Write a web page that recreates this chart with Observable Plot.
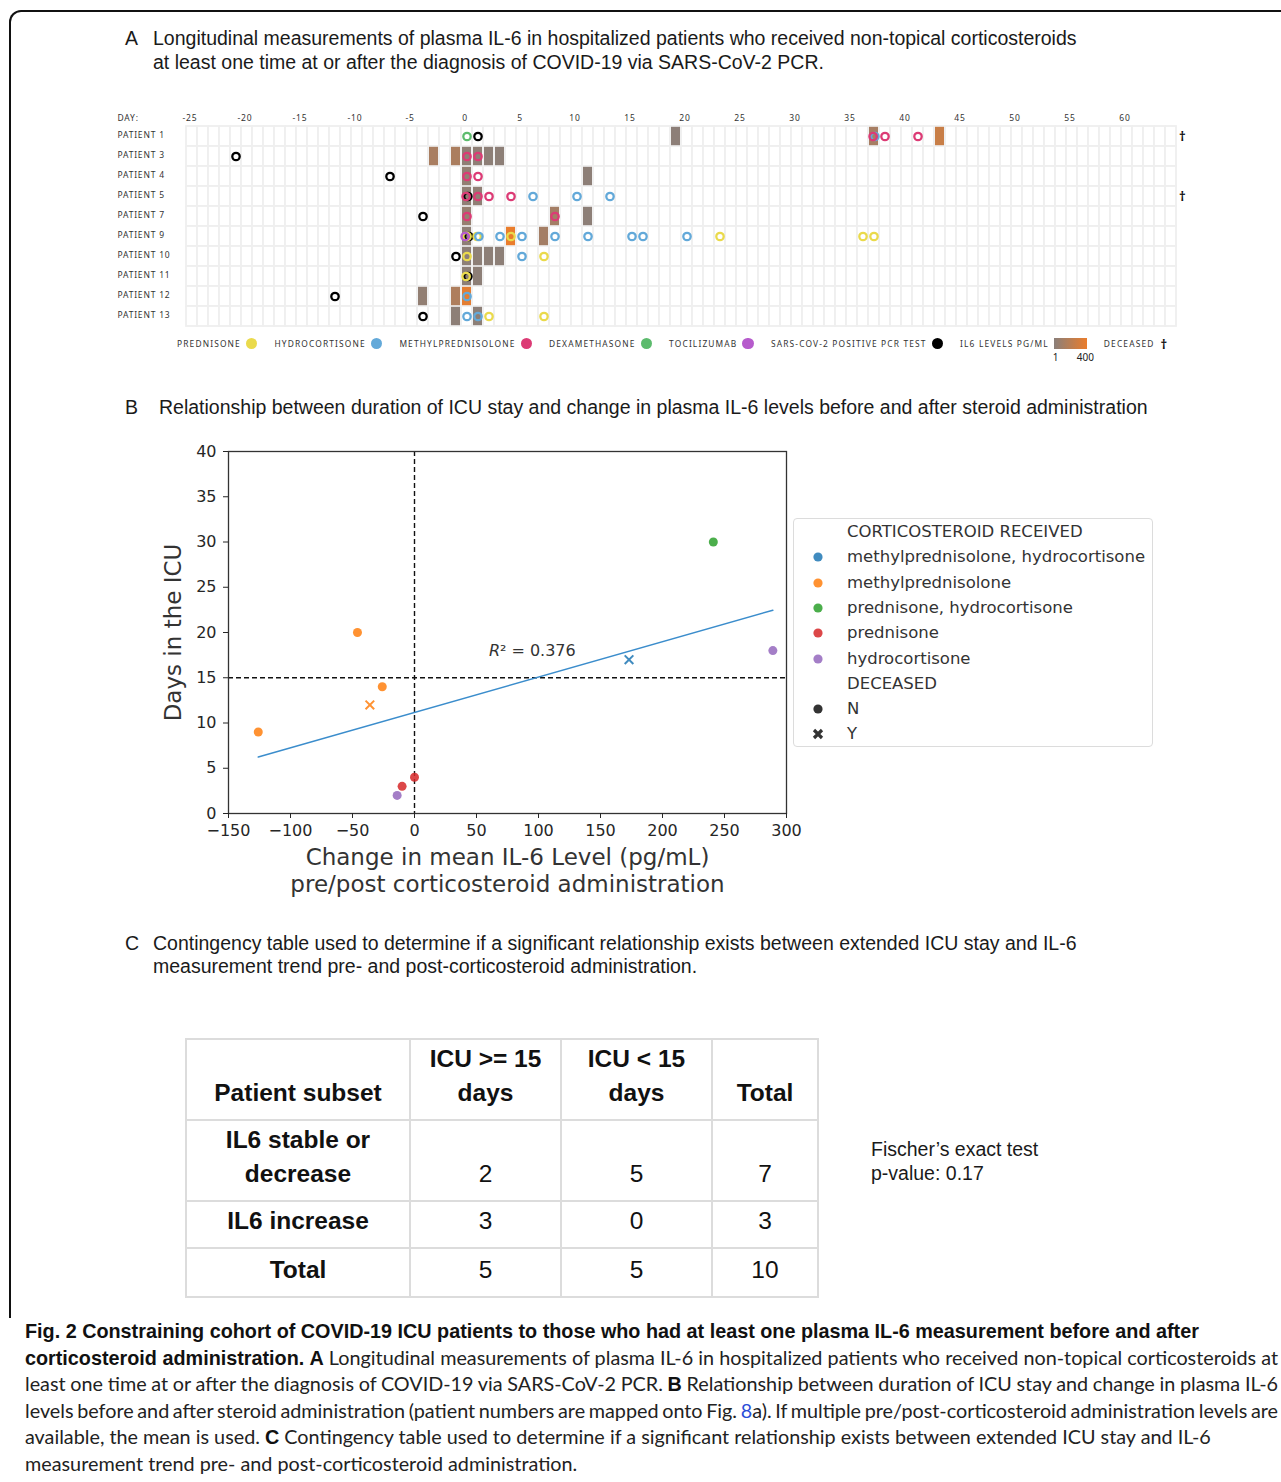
<!DOCTYPE html>
<html><head><meta charset="utf-8">
<script src="https://cdn.jsdelivr.net/npm/d3@7"></script>
<script src="https://cdn.jsdelivr.net/npm/@observablehq/plot@0.6"></script>
<style>
html,body{margin:0;padding:0;background:#fff;}
body{width:1281px;height:1482px;position:relative;overflow:hidden;font-family:"Liberation Sans",Arial,sans-serif;color:#1a1a1a;}
.frame{position:absolute;left:9px;top:10px;width:1320px;height:1306px;border:2px solid #111;border-bottom:none;border-top-left-radius:12px;}
.t{position:absolute;font-size:19.5px;line-height:24px;white-space:nowrap;color:#1a1a1a;}
#plotA,#plotB{position:absolute;}
#plotA{left:0;top:100px;}
#plotB{left:150px;top:430px;}
#legA{position:absolute;left:177px;top:337px;height:13px;display:flex;align-items:center;font-family:"Noto Sans",sans-serif;font-size:8.4px;letter-spacing:1.15px;color:#333;white-space:nowrap;}
#legA .it{display:flex;align-items:center;margin-right:17px;}
#legA .dot{width:11.5px;height:11.5px;border-radius:50%;margin-left:5px;}
#legA .grad{position:relative;width:33px;height:11px;margin-left:5px;}
#legA .gl{position:absolute;top:12px;font-size:10px;letter-spacing:0;color:#222;}
#legB{position:absolute;left:793px;top:518px;width:358px;height:227px;border:1px solid #dcdcdc;border-radius:4px;font-family:"DejaVu Sans",sans-serif;font-size:16.5px;color:#333;}
#legB .row{position:absolute;left:0;height:25px;line-height:25px;width:100%;}
#legB .lab{position:absolute;left:53px;white-space:nowrap;}
#legB svg{position:absolute;left:18px;top:7px;}
table.ct{position:absolute;left:185px;top:1038px;border-collapse:collapse;table-layout:fixed;width:632px;font-family:"Liberation Sans",Arial,sans-serif;color:#111;}
table.ct td{border:2px solid #dcdcdc;text-align:center;vertical-align:bottom;padding:0 0 9px 0;font-size:24.5px;line-height:34px;white-space:nowrap;}
table.ct td.b{font-weight:bold;}
#cap{position:absolute;left:25px;top:1317px;width:1253px;font-size:19.8px;color:#222;}
#cap div{white-space:nowrap;font-family:"Lato","Open Sans",sans-serif;height:26.6px;line-height:26.6px;}
#cap div.j{text-align:justify;text-align-last:justify;word-spacing:-3px;}
#cap b{font-family:"Liberation Sans",Arial,sans-serif;font-weight:bold;color:#111;}
</style></head>
<body>
<div class="frame"></div>
<div class="t" style="left:125px;top:26px;">A</div>
<div class="t" style="left:153px;top:26px;">Longitudinal measurements of plasma IL-6 in hospitalized patients who received non-topical corticosteroids<br>at least one time at or after the diagnosis of COVID-19 via SARS-CoV-2 PCR.</div>
<div id="plotA"></div>
<div id="legA"></div>
<div class="t" style="left:125px;top:395px;">B</div>
<div class="t" style="left:159px;top:395px;">Relationship between duration of ICU stay and change in plasma IL-6 levels before and after steroid administration</div>
<div id="plotB"></div>
<div id="legB"></div>
<div class="t" style="left:125px;top:932px;line-height:23px;">C</div>
<div class="t" style="left:153px;top:932px;line-height:23px;">Contingency table used to determine if a significant relationship exists between extended ICU stay and IL-6<br>measurement trend pre- and post-corticosteroid administration.</div>
<table class="ct" id="ct"></table>
<div class="t" style="left:871px;top:1137px;">Fischer’s exact test<br>p-value: 0.17</div>
<div id="cap">
<div><b>Fig. 2 Constraining cohort of COVID-19 ICU patients to those who had at least one plasma IL-6 measurement before and after</b></div>
<div class="j"><b>corticosteroid administration.</b> <b>A</b> Longitudinal measurements of plasma IL-6 in hospitalized patients who received non-topical corticosteroids at</div>
<div class="j">least one time at or after the diagnosis of COVID-19 via SARS-CoV-2 PCR. <b>B</b> Relationship between duration of ICU stay and change in plasma IL-6</div>
<div class="j">levels before and after steroid administration (patient numbers are mapped onto Fig. <span style="color:#2a4fd8">8</span>a). If multiple pre/post-corticosteroid administration levels are</div>
<div>available, the mean is used. <b>C</b> Contingency table used to determine if a significant relationship exists between extended ICU stay and IL-6</div>
<div>measurement trend pre- and post-corticosteroid administration.</div>
</div>
<script>
// ---------- Panel A data ----------
const patients = ["PATIENT 1","PATIENT 3","PATIENT 4","PATIENT 5","PATIENT 7","PATIENT 9","PATIENT 10","PATIENT 11","PATIENT 12","PATIENT 13"];
const studyDays = d3.range(-25, 65);
const dayTicks = d3.range(-25, 61, 5);
// [patient, day, IL-6 pg/mL]
const il6Levels = [
  ["PATIENT 1", 19, 12], ["PATIENT 1", 37, 120], ["PATIENT 1", 43, 260],
  ["PATIENT 3", -3, 130], ["PATIENT 3", -1, 140], ["PATIENT 3", 0, 20], ["PATIENT 3", 1, 20], ["PATIENT 3", 2, 15], ["PATIENT 3", 3, 15],
  ["PATIENT 4", 0, 35], ["PATIENT 4", 11, 15],
  ["PATIENT 5", 0, 25], ["PATIENT 5", 1, 25],
  ["PATIENT 7", 0, 50], ["PATIENT 7", 8, 110], ["PATIENT 7", 11, 15],
  ["PATIENT 9", 0, 20], ["PATIENT 9", 4, 400], ["PATIENT 9", 7, 110],
  ["PATIENT 10", 0, 15], ["PATIENT 10", 1, 15], ["PATIENT 10", 2, 15], ["PATIENT 10", 3, 15],
  ["PATIENT 11", 0, 15], ["PATIENT 11", 1, 15],
  ["PATIENT 12", -4, 35], ["PATIENT 12", -1, 150], ["PATIENT 12", 0, 370],
  ["PATIENT 13", -1, 15], ["PATIENT 13", 1, 15]
];
const eventNames = ["PREDNISONE","HYDROCORTISONE","METHYLPREDNISOLONE","DEXAMETHASONE","TOCILIZUMAB","SARS-COV-2 POSITIVE PCR TEST"];
const eventColors = ["#eada4c","#63a9d9","#dc3b75","#5cbb6d","#b65bcc","#000000"];
// [patient, day, event]
const events = [
  ["PATIENT 1", 0, "DEXAMETHASONE"], ["PATIENT 1", 1, "SARS-COV-2 POSITIVE PCR TEST"], ["PATIENT 1", 37, "METHYLPREDNISOLONE"], ["PATIENT 1", 37, "HYDROCORTISONE"], ["PATIENT 1", 38, "METHYLPREDNISOLONE"], ["PATIENT 1", 41, "METHYLPREDNISOLONE"],
  ["PATIENT 3", -21, "SARS-COV-2 POSITIVE PCR TEST"], ["PATIENT 3", 0, "METHYLPREDNISOLONE"], ["PATIENT 3", 1, "METHYLPREDNISOLONE"],
  ["PATIENT 4", -7, "SARS-COV-2 POSITIVE PCR TEST"], ["PATIENT 4", 0, "METHYLPREDNISOLONE"], ["PATIENT 4", 1, "METHYLPREDNISOLONE"],
  ["PATIENT 5", 0, "METHYLPREDNISOLONE"], ["PATIENT 5", 0, "SARS-COV-2 POSITIVE PCR TEST"], ["PATIENT 5", 1, "METHYLPREDNISOLONE"], ["PATIENT 5", 2, "METHYLPREDNISOLONE"], ["PATIENT 5", 4, "METHYLPREDNISOLONE"], ["PATIENT 5", 6, "HYDROCORTISONE"], ["PATIENT 5", 10, "HYDROCORTISONE"], ["PATIENT 5", 13, "HYDROCORTISONE"],
  ["PATIENT 7", -4, "SARS-COV-2 POSITIVE PCR TEST"], ["PATIENT 7", 0, "METHYLPREDNISOLONE"], ["PATIENT 7", 8, "METHYLPREDNISOLONE"],
  ["PATIENT 9", 0, "TOCILIZUMAB"], ["PATIENT 9", 0, "PREDNISONE"], ["PATIENT 9", 0, "SARS-COV-2 POSITIVE PCR TEST"], ["PATIENT 9", 1, "PREDNISONE"], ["PATIENT 9", 1, "HYDROCORTISONE"], ["PATIENT 9", 3, "HYDROCORTISONE"], ["PATIENT 9", 4, "PREDNISONE"], ["PATIENT 9", 5, "HYDROCORTISONE"], ["PATIENT 9", 8, "HYDROCORTISONE"], ["PATIENT 9", 11, "HYDROCORTISONE"], ["PATIENT 9", 15, "HYDROCORTISONE"], ["PATIENT 9", 16, "HYDROCORTISONE"], ["PATIENT 9", 20, "HYDROCORTISONE"], ["PATIENT 9", 23, "PREDNISONE"], ["PATIENT 9", 36, "PREDNISONE"], ["PATIENT 9", 37, "PREDNISONE"],
  ["PATIENT 10", -1, "SARS-COV-2 POSITIVE PCR TEST"], ["PATIENT 10", 0, "PREDNISONE"], ["PATIENT 10", 5, "HYDROCORTISONE"], ["PATIENT 10", 7, "PREDNISONE"],
  ["PATIENT 11", 0, "PREDNISONE"], ["PATIENT 11", 0, "SARS-COV-2 POSITIVE PCR TEST"],
  ["PATIENT 12", -12, "SARS-COV-2 POSITIVE PCR TEST"], ["PATIENT 12", 0, "HYDROCORTISONE"],
  ["PATIENT 13", -4, "SARS-COV-2 POSITIVE PCR TEST"], ["PATIENT 13", 0, "HYDROCORTISONE"], ["PATIENT 13", 1, "HYDROCORTISONE"], ["PATIENT 13", 2, "PREDNISONE"], ["PATIENT 13", 7, "PREDNISONE"]
];
const deceasedPatients = ["PATIENT 1", "PATIENT 5"];
const il6Range = ["#8a7f7a", "#ea7d2c"];

// ---------- Panel B data ----------
const steroidNames = ["methylprednisolone, hydrocortisone","methylprednisolone","prednisone, hydrocortisone","prednisone","hydrocortisone"];
const steroidColors = ["#1f77b4","#ff7f0e","#2ca02c","#d62728","#9467bd"];
const il6Change = [241, 289, 173, -46, -26, -126, -36, 0, -10, -14];
const icuDays = [30, 18, 17, 20, 14, 9, 12, 4, 3, 2];
const steroidReceived = ["prednisone, hydrocortisone","hydrocortisone","methylprednisolone, hydrocortisone","methylprednisolone","methylprednisolone","methylprednisolone","methylprednisolone","prednisone","prednisone","hydrocortisone"];
const deceasedFlag = ["N","N","Y","N","N","N","Y","N","N","N"];
const xTicksB = d3.range(-150, 301, 50);
const yTicksB = d3.range(0, 41, 5);
const r2LabelAt = [{x: 60, y: 18}];

// ---------- Panel C data ----------
const tableHeader = ["Patient subset", "ICU &gt;= 15<br>days", "ICU &lt; 15<br>days", "Total"];
const subsets = ["IL6 stable or<br>decrease", "IL6 increase", "Total"];
const icuLong = [2, 3, 5];
const icuShort = [5, 0, 5];
const rowTotals = [7, 3, 10];

// ---------- Panel A ----------
const il6 = il6Levels.map(([patient, day, level]) => ({patient, day, level}));
const ev = events.map(([patient, day, name]) => ({patient, day, name}));
const groups = d3.group(ev, d => d.patient + "|" + d.day);
for (const g of groups.values()) {
  const ordered = g.filter(d => !d.name.startsWith("SARS")).concat(g.filter(d => d.name.startsWith("SARS")));
  ordered.forEach((d, i) => { d.off = (i - (ordered.length - 1) / 2) * 1.8; });
}
const grid = d3.cross(patients, studyDays).map(([patient, day]) => ({patient, day}));
const dotMarks = [];
const drawOrder = [eventNames.length - 1, ...d3.range(eventNames.length - 1)];
for (const k of drawOrder) {
  const name = eventNames[k];
  const sub = ev.filter(d => d.name === name);
  for (const off of Array.from(new Set(sub.map(d => d.off)))) {
    dotMarks.push(Plot.dot(sub.filter(d => d.off === off), {x: "day", y: "patient", r: 3.7, stroke: eventColors[k], strokeWidth: 2.3, fill: "none", dx: off}));
  }
}
const plotA = Plot.plot({
  width: 1281, height: 240,
  marginLeft: 183, marginRight: 103, marginTop: 22.7, marginBottom: 11.7,
  style: {fontFamily: "'Noto Sans', sans-serif", fontSize: "8.5px", letterSpacing: "0.8px", color: "#333", background: "none"},
  x: {type: "band", domain: studyDays, padding: 0},
  y: {type: "band", domain: patients, padding: 0},
  color: {type: "linear", domain: [1, 400], range: il6Range},
  marks: [
    Plot.cell(grid, {x: "day", y: "patient", fill: "#fff", stroke: "#efefef", strokeWidth: 1.8}),
    Plot.cell(il6, {x: "day", y: "patient", fill: "level", insetLeft: 1, insetRight: 1, insetTop: 0.8, insetBottom: 0.8}),
    ...dotMarks,
    Plot.text(deceasedPatients, {y: d => d, frameAnchor: "right", dx: 8, text: () => "†", fontSize: 13, fontWeight: "bold", fill: "#111"}),
    Plot.axisX(dayTicks, {anchor: "top", tickSize: 0, tickPadding: 2, dx: -2, tickFormat: d => String(d), label: null}),
    Plot.axisY({anchor: "left", tickSize: 0, tickPadding: 0, textAnchor: "start", dx: -66, dy: -1, label: null}),
    Plot.text(["DAY:"], {frameAnchor: "top-left", dx: -66, dy: -2, textAnchor: "start", lineAnchor: "bottom"})
  ]
});
document.getElementById("plotA").appendChild(plotA);

// Legend A
const legA = document.getElementById("legA");
eventNames.forEach((n, i) => {
  const it = document.createElement("div"); it.className = "it";
  it.innerHTML = `<span>${n}</span><span class="dot" style="background:${eventColors[i]}"></span>`;
  legA.appendChild(it);
});
{
  const it = document.createElement("div"); it.className = "it";
  it.innerHTML = `<span>IL6 LEVELS PG/ML</span><span class="grad" style="background:linear-gradient(to right, ${il6Range[0]}, ${il6Range[1]})"><span class="gl" style="left:-1px">1</span><span class="gl" style="left:23px">400</span></span>`;
  legA.appendChild(it);
  const d = document.createElement("div"); d.className = "it";
  d.innerHTML = `<span>DECEASED</span><span style="margin-left:6px;font-size:13px;font-weight:bold;color:#111;letter-spacing:0">†</span>`;
  legA.appendChild(d);
}

// ---------- Panel B ----------
const pts = il6Change.map((x, i) => ({x, y: icuDays[i], steroid: steroidReceived[i], deceased: deceasedFlag[i]}));
const mx = d3.mean(pts, d => d.x), my = d3.mean(pts, d => d.y);
const sxy = d3.sum(pts, d => (d.x - mx) * (d.y - my));
const sxx = d3.sum(pts, d => (d.x - mx) ** 2);
const syy = d3.sum(pts, d => (d.y - my) ** 2);
const r2 = sxy * sxy / (sxx * syy);
const plotB = Plot.plot({
  width: 660, height: 480,
  marginLeft: 78, marginRight: 24, marginTop: 21, marginBottom: 97,
  style: {fontFamily: "'DejaVu Sans', sans-serif", fontSize: "16px", color: "#262626", background: "none"},
  x: {domain: [-150, 300]},
  y: {domain: [0, 40]},
  color: {domain: steroidNames, range: steroidColors},
  marks: [
    Plot.ruleX([0], {stroke: "#111", strokeWidth: 1.4, strokeDasharray: "5,3"}),
    Plot.ruleY([15], {stroke: "#111", strokeWidth: 1.4, strokeDasharray: "5,3"}),
    Plot.linearRegressionY(pts, {x: "x", y: "y", ci: 0, stroke: "#3b8dcc", strokeWidth: 1.5}),
    Plot.dot(pts.filter(d => d.deceased === "N"), {x: "x", y: "y", fill: "steroid", r: 4.5, fillOpacity: 0.85}),
    Plot.dot(pts.filter(d => d.deceased === "Y"), {x: "x", y: "y", stroke: "steroid", symbol: "times", r: 4, strokeWidth: 2, strokeOpacity: 0.85}),
    Plot.text(r2LabelAt, {x: "x", y: "y", text: () => "R", fontStyle: "italic", textAnchor: "start", fill: "#333"}),
    Plot.text(r2LabelAt, {x: "x", y: "y", text: () => "² = " + d3.format(".3f")(r2), textAnchor: "start", dx: 11, fill: "#333"}),
    Plot.frame({stroke: "#333", strokeWidth: 1.3}),
    Plot.axisX(xTicksB, {tickSize: 5, tickPadding: 6, label: null}),
    Plot.axisY(yTicksB, {tickSize: 5, tickPadding: 7, label: null}),
    Plot.text(["Change in mean IL-6 Level (pg/mL)\npre/post corticosteroid administration"], {frameAnchor: "bottom", dy: 32, lineAnchor: "top", textAnchor: "middle", fontSize: 23, lineHeight: 1.17, fill: "#333"}),
    Plot.text(["Days in the ICU"], {frameAnchor: "left", rotate: -90, dx: -55, textAnchor: "middle", fontSize: 23, fill: "#333"})
  ]
});
document.getElementById("plotB").appendChild(plotB);

// Legend B
const legB = document.getElementById("legB");
const legRows = [{t: "CORTICOSTEROID RECEIVED"}, ...steroidNames.map((n, i) => ({t: n, c: steroidColors[i]})), {t: "DECEASED"}, {t: "N", m: "N"}, {t: "Y", m: "Y"}];
legRows.forEach((r, i) => {
  const row = document.createElement("div"); row.className = "row"; row.style.top = (i * 25.3) + "px";
  let mk = "";
  if (r.c) mk = `<svg width="12" height="12"><circle cx="6" cy="6" r="4.6" fill="${r.c}" fill-opacity="0.85"/></svg>`;
  if (r.m === "N") mk = `<svg width="12" height="12"><circle cx="6" cy="6" r="4.6" fill="#333"/></svg>`;
  if (r.m === "Y") mk = `<svg width="12" height="12"><path d="M2,2 L10,10 M10,2 L2,10" stroke="#333" stroke-width="3.2"/></svg>`;
  row.innerHTML = mk + `<span class="lab">${r.t}</span>`;
  legB.appendChild(row);
});

// ---------- Panel C ----------
const ct = document.getElementById("ct");
const widths = [222, 149, 149, 104];
const heights = [81, 81, 47, 49];
let html = `<tr style="height:${heights[0]}px">` + tableHeader.map((h, i) => `<td class="b" style="width:${widths[i]}px">${h}</td>`).join("") + "</tr>";
subsets.forEach((s, i) => {
  html += `<tr style="height:${heights[i + 1]}px"><td class="b">${s}</td><td>${icuLong[i]}</td><td>${icuShort[i]}</td><td>${rowTotals[i]}</td></tr>`;
});
ct.innerHTML = html;
</script>
</body></html>
